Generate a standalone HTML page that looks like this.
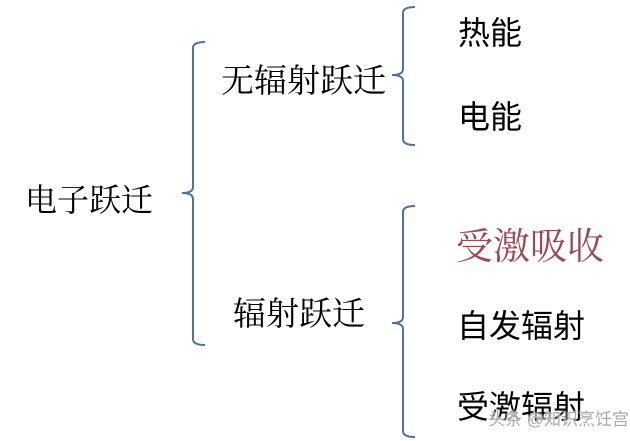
<!DOCTYPE html>
<html><head><meta charset="utf-8"><style>
html,body{margin:0;padding:0;background:#fff;}
body{width:630px;height:441px;position:relative;overflow:hidden;}
.t{position:absolute;white-space:nowrap;line-height:1;color:#000;}
.s{font-family:"Liberation Serif","Noto Serif CJK SC",serif;}
.a{font-family:"Liberation Sans","Noto Sans CJK SC",sans-serif;}
</style></head><body>
<svg width="630" height="441" style="position:absolute;left:0;top:0">
<g fill="none" stroke="#4f72a0" stroke-width="2">
<path d="M205,42 Q193,42 193,48 L193,187 Q193,193 182,193 Q193,193 193,199 L193,339 Q193,345 205,345"/>
<path d="M415,7 Q403,7 403,13 L403,69 Q403,75 392,75 Q403,75 403,81 L403,139 Q403,145 415,145"/>
<path d="M415,206 Q403,206 403,212 L403,317 Q403,323 392,323 Q403,323 403,329 L403,431 Q403,437 415,437"/>
</g></svg>
<div class="t s" style="left:25px;top:184px;font-size:32px;">电子跃迁</div>
<div class="t s" style="left:221px;top:66px;font-size:33px;">无辐射跃迁</div>
<div class="t s" style="left:233px;top:299px;font-size:33px;">辐射跃迁</div>
<div class="t a" style="left:458px;top:17px;font-size:32px;">热能</div>
<div class="t a" style="left:458px;top:101px;font-size:32px;">电能</div>
<div class="t s" style="left:456px;top:229px;font-size:37px;color:#9b4a55;">受激吸收</div>
<div class="t a" style="left:457px;top:310px;font-size:32px;">自发辐射</div>
<div class="t a" style="left:457px;top:391px;font-size:32px;">受激辐射</div>
<div class="t a" style="left:488px;top:411px;font-size:17px;color:#aaa;text-shadow:0 0 2px #fff,0 0 2px #fff;">头条 @知识烹饪宫</div>
</body></html>
